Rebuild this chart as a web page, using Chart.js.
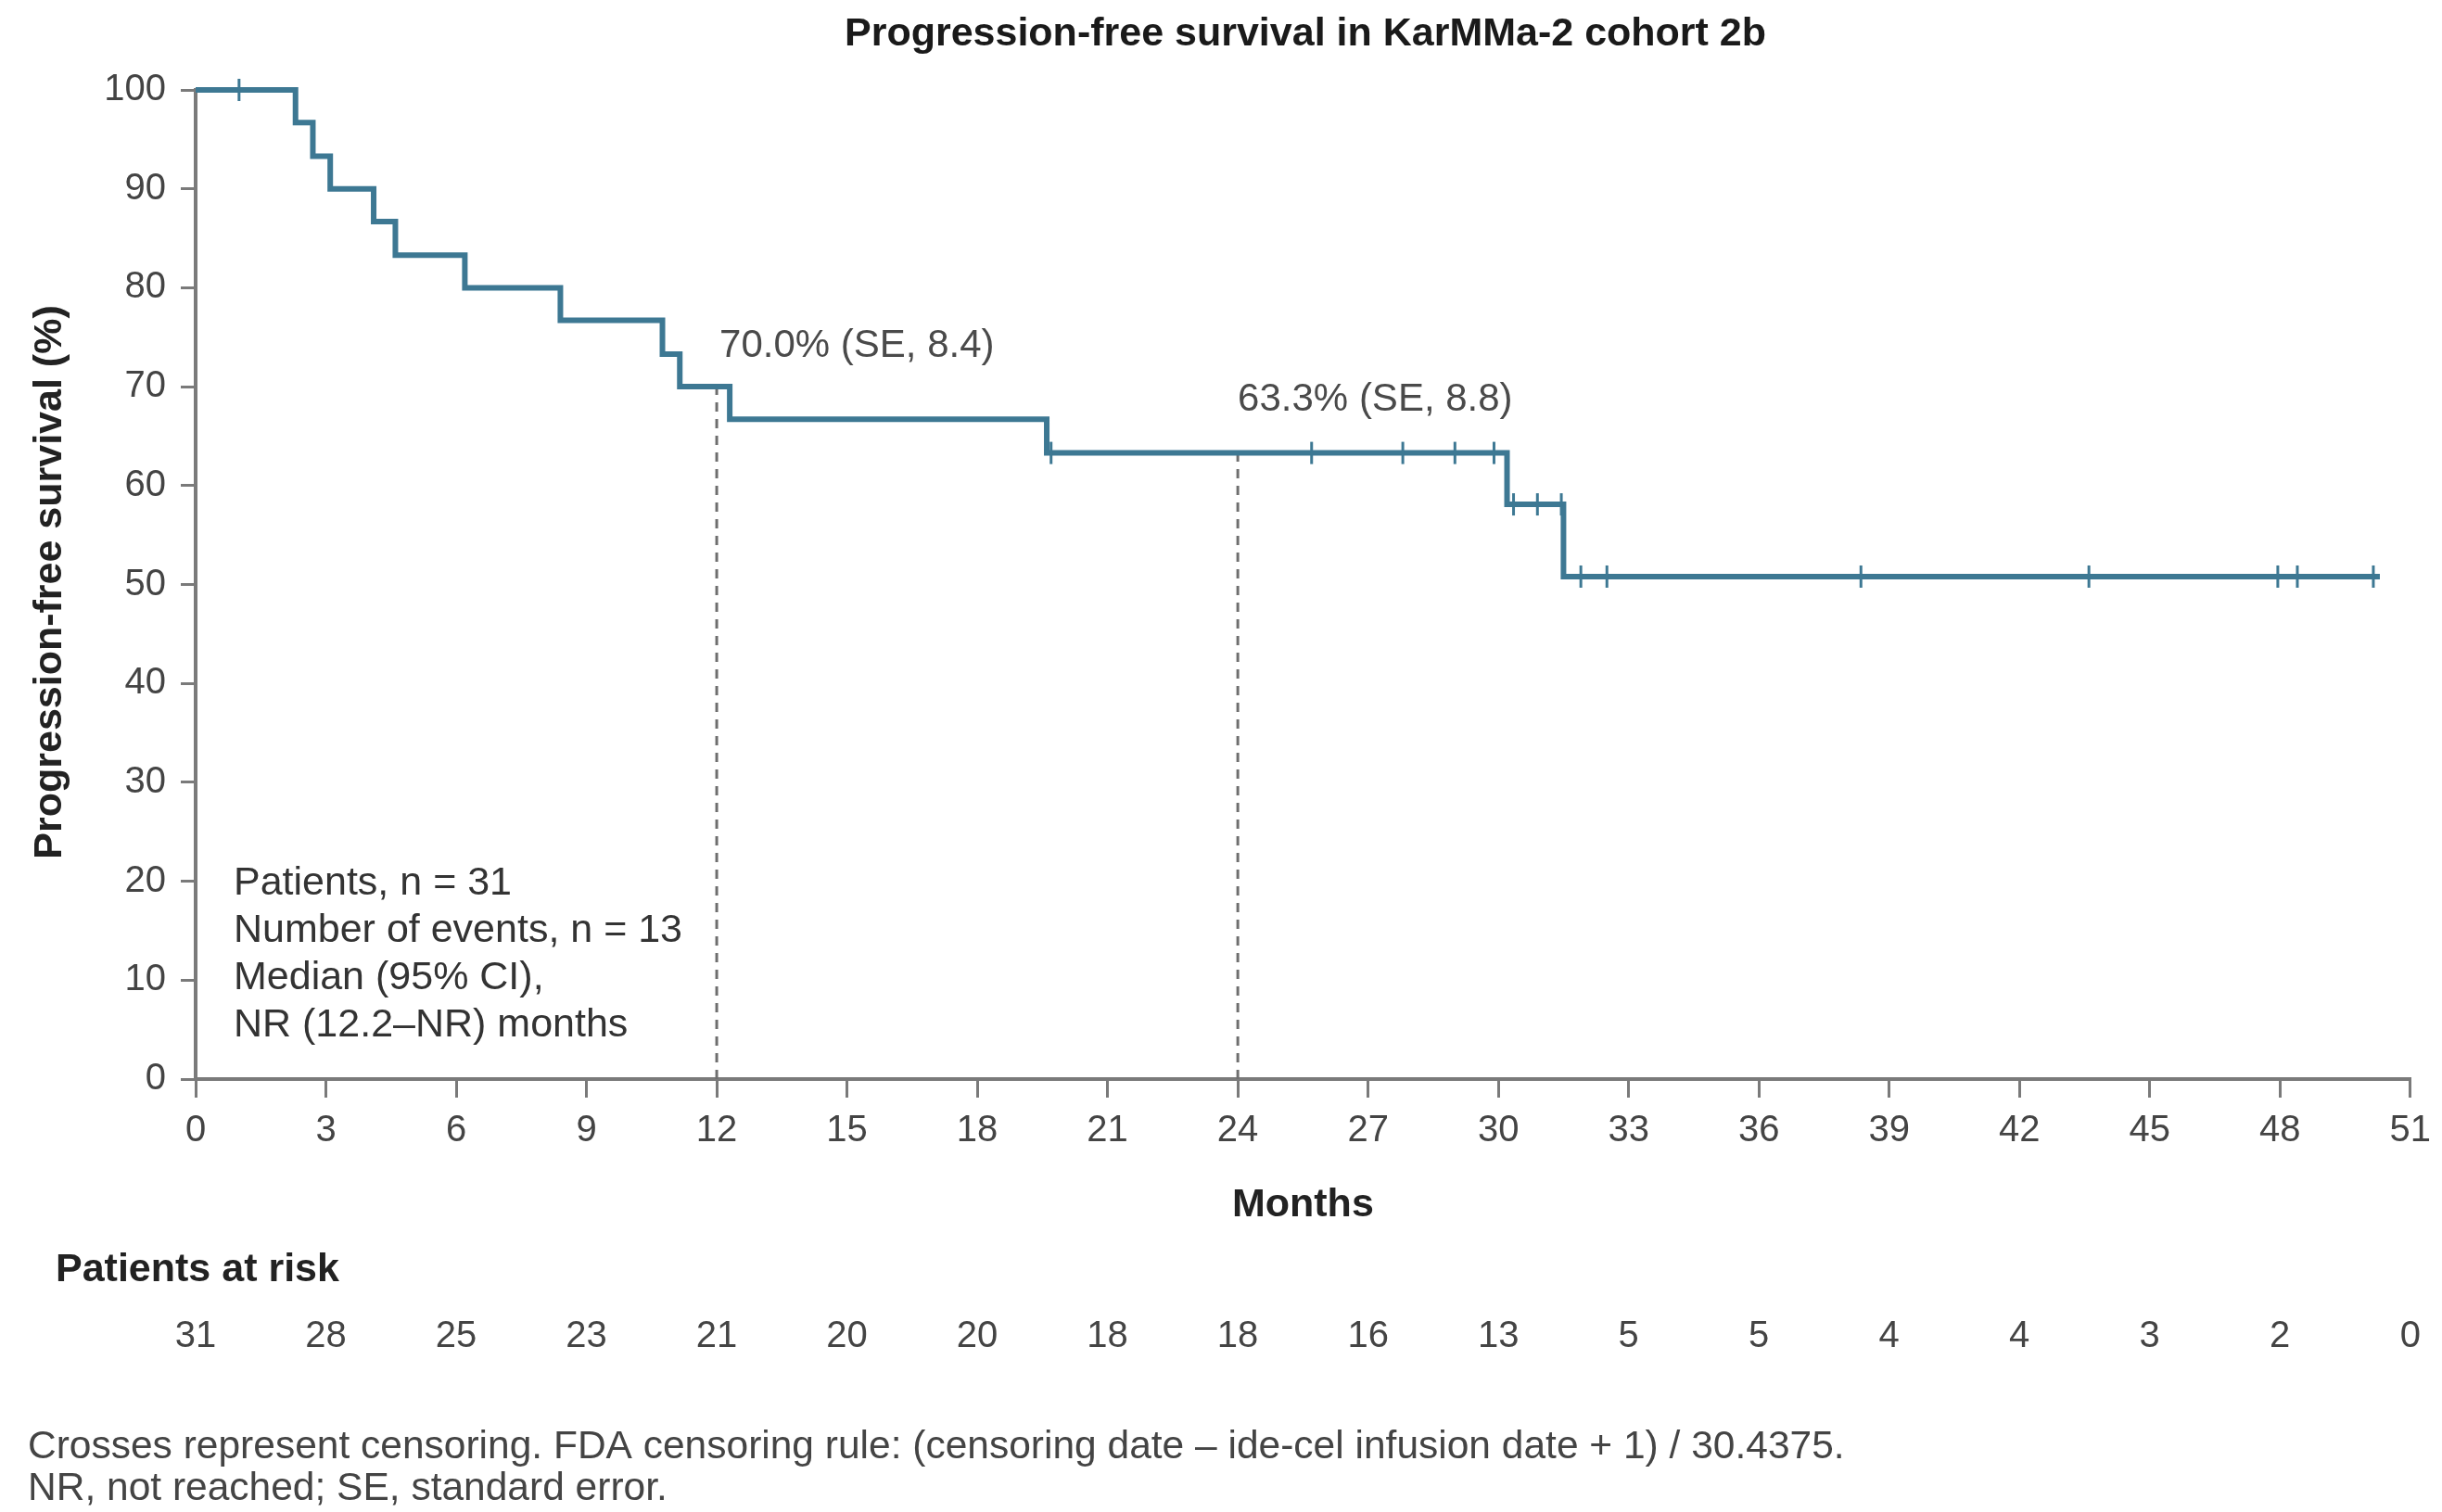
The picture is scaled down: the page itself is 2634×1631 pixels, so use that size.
<!DOCTYPE html>
<html>
<head>
<meta charset="utf-8">
<script src="https://cdn.jsdelivr.net/npm/chart.js@4.4.1/dist/chart.umd.min.js"></script>
<style>
  html, body { margin: 0; padding: 0; background: #ffffff; }
  #wrap { width: 2634px; height: 1631px; position: relative; }
</style>
</head>
<body>
<div id="wrap"><canvas id="pfs" width="2634" height="1631"></canvas></div>
<script>
// Kaplan–Meier step points: month of each event and survival (%) after it
const stepMonths   = [0, 2.3, 2.7, 3.1, 4.1, 4.6, 6.2, 8.4, 10.75, 11.15, 12.3, 19.6, 30.2, 31.5, 50.3];
const stepSurvival = [100, 96.7, 93.3, 90.0, 86.7, 83.3, 80.0, 76.7, 73.3, 70.0, 66.7, 63.3, 58.1, 50.8, 50.8];

// Censored patients (crosses)
const censorMonths   = [1.0, 19.7, 25.7, 27.8, 29.0, 29.9, 30.35, 30.9, 31.45, 31.9, 32.5, 38.35, 43.6, 47.95, 48.4, 50.15];
const censorSurvival = [100, 63.3, 63.3, 63.3, 63.3, 63.3, 58.1, 58.1, 58.1, 50.8, 50.8, 50.8, 50.8, 50.8, 50.8, 50.8];

// Landmark estimates
const landmarkMonths   = [12, 24];
const landmarkSurvival = [70.0, 63.3];
const landmarkSE       = [8.4, 8.8];

// Number at risk below the x axis
const riskMonths = [0, 3, 6, 9, 12, 15, 18, 21, 24, 27, 30, 33, 36, 39, 42, 45, 48, 51];
const atRisk     = [31, 28, 25, 23, 21, 20, 20, 18, 18, 16, 13, 5, 5, 4, 4, 3, 2, 0];

const summaryLines = [
  'Patients, n = 31',
  'Number of events, n = 13',
  'Median (95% CI),',
  'NR (12.2\u2013NR) months'
];
const titleText = 'Progression-free survival in KarMMa-2 cohort 2b';
const yTitle = 'Progression-free survival (%)';
const xTitle = 'Months';
const footnotes = [
  'Crosses represent censoring. FDA censoring rule: (censoring date \u2013 ide-cel infusion date + 1) / 30.4375.',
  'NR, not reached; SE, standard error.'
];

const FONT = "'Liberation Sans', Arial, Helvetica, sans-serif";
const LINE_COLOR = '#3d7893';
const AXIS_COLOR = '#7a7a7a';

const curve = stepMonths.map((m, i) => ({ x: m, y: stepSurvival[i] }));
const censored = censorMonths.map((m, i) => ({ x: m, y: censorSurvival[i] }));
const landmarkSets = landmarkMonths.map((m, i) => ({
  type: 'line',
  data: [{ x: m, y: 0 }, { x: m, y: landmarkSurvival[i] }],
  borderColor: '#6e6e6e',
  borderWidth: 3,
  borderDash: [10, 8],
  pointRadius: 0,
  showLine: true,
  clip: false,
  order: 3
}));

// Titles, annotations, at-risk row and footnotes
const textLayer = {
  id: 'textLayer',
  afterDraw(chart) {
    const ctx = chart.ctx;
    const xs = chart.scales.x, ys = chart.scales.y;
    ctx.save();
    ctx.textBaseline = 'middle';

    ctx.fillStyle = '#1a1a1a';
    ctx.font = 'bold 43px ' + FONT;
    ctx.textAlign = 'center';
    ctx.fillText(titleText, 1408, 37);

    ctx.fillStyle = '#222222';
    ctx.fillText(xTitle, xs.getPixelForValue(25.5), 1300);

    ctx.save();
    ctx.translate(54, 628);
    ctx.rotate(-Math.PI / 2);
    ctx.fillText(yTitle, 0, 0);
    ctx.restore();

    ctx.textAlign = 'left';
    ctx.fillText('Patients at risk', 60, 1370);

    ctx.font = '40px ' + FONT;
    ctx.fillStyle = '#444444';
    ctx.textAlign = 'center';
    riskMonths.forEach((m, i) => {
      ctx.fillText(String(atRisk[i]), xs.getPixelForValue(m), 1442);
    });

    // landmark labels
    ctx.font = '42px ' + FONT;
    ctx.fillStyle = '#4a4a4a';
    ctx.textAlign = 'left';
    const labelLift = [44, 57];
    landmarkMonths.forEach((m, i) => {
      const label = landmarkSurvival[i].toFixed(1) + '% (SE, ' + landmarkSE[i].toFixed(1) + ')';
      const px = xs.getPixelForValue(m);
      const py = ys.getPixelForValue(landmarkSurvival[i]);
      ctx.fillText(label, px + (i === 0 ? 3 : 0), py - labelLift[i]);
    });

    // summary box
    ctx.font = '43px ' + FONT;
    ctx.fillStyle = '#333333';
    summaryLines.forEach((t, i) => {
      ctx.fillText(t, 252, 953 + i * 51);
    });

    // footnotes
    ctx.font = '42.5px ' + FONT;
    ctx.fillStyle = '#444444';
    footnotes.forEach((t, i) => {
      ctx.fillText(t, 30, 1561 + i * 45);
    });
    ctx.restore();
  }
};

new Chart(document.getElementById('pfs'), {
  type: 'scatter',
  data: {
    datasets: [
      {
        type: 'line',
        data: curve,
        stepped: true,
        borderColor: LINE_COLOR,
        borderWidth: 6,
        pointRadius: 0,
        fill: false,
        clip: false,
        order: 2
      },
      {
        type: 'scatter',
        data: censored,
        showLine: false,
        pointStyle: 'line',
        rotation: 90,
        pointRadius: 12,
        borderColor: LINE_COLOR,
        borderWidth: 3,
        clip: false,
        order: 1
      },
      ...landmarkSets
    ]
  },
  options: {
    responsive: false,
    animation: false,
    devicePixelRatio: 1,
    layout: { padding: { left: 0, top: 97, right: 34, bottom: 387 } },
    plugins: { legend: { display: false }, tooltip: { enabled: false }, title: { display: false } },
    scales: {
      x: {
        type: 'linear',
        min: 0,
        max: 51,
        ticks: { stepSize: 3, color: '#444444', font: { family: FONT, size: 40 }, padding: 12, maxRotation: 0 },
        grid: { display: true, drawOnChartArea: false, drawTicks: true, tickLength: 20, color: AXIS_COLOR, lineWidth: 3 },
        border: { display: true, color: AXIS_COLOR, width: 4 },
        afterFit(scale) { scale.height = 80; }
      },
      y: {
        type: 'linear',
        min: 0,
        max: 100,
        ticks: { stepSize: 10, color: '#444444', font: { family: FONT, size: 40 }, padding: 16 },
        grid: { display: true, drawOnChartArea: false, drawTicks: true, tickLength: 16, color: AXIS_COLOR, lineWidth: 3 },
        border: { display: true, color: AXIS_COLOR, width: 4 },
        afterFit(scale) { scale.width = 211; }
      }
    }
  },
  plugins: [textLayer]
});
</script>
</body>
</html>
